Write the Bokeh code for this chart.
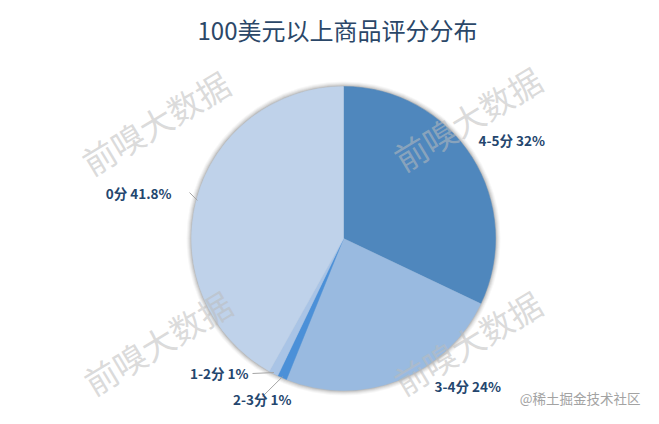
import math
from bokeh.plotting import figure
from bokeh.models import Range1d
from bokeh.core.properties import value
from bokeh.embed import file_html
from bokeh.resources import INLINE

# ---- data ----
title = "100美元以上商品评分分布"
categories = ["4-5分", "3-4分", "2-3分", "1-2分", "0分"]
percents = [32, 24, 1, 1, 41.8]
colors = ["#4f87bd", "#99bae0", "#4b90d8", "#a9c4e6", "#bfd2ea"]
watermark = "前嗅大数据"
credit = "@稀土掘金技术社区"

# ---- layout (pixels of the picture) ----
W, H = 643, 408
CJK = "Noto Sans CJK SC"


def px(X):
    return X


def py(Y):
    return H - Y


cx, cy, R = px(343), py(238), 152
# label anchor positions (picture pixels) and alignment
label_pos = [(478, 139, "left"), (434, 385, "left"), (291, 398, "right"),
             (248, 372, "right"), (171, 192, "right")]
# start point of each leader line (None = no leader)
leader_start = [None, None, (262, 396), (252, 373), (189, 192)]
wm_pos = [(155, 122), (467, 118), (157, 342), (467, 342)]

p = figure(width=W, height=H, output_backend="svg", toolbar_location=None,
           x_range=Range1d(0, W), y_range=Range1d(0, H), min_border=0)
p.axis.visible = False
p.grid.visible = False
p.outline_line_color = None
p.background_fill_color = "white"
p.border_fill_color = "white"

# soft shadow
for dr, a in [(5, 0.03), (4, 0.04), (3, 0.055), (2, 0.075), (1, 0.1)]:
    p.circle(x=[cx], y=[cy], radius=R + dr, radius_units="screen",
             fill_color="#000000", fill_alpha=a, line_color=None)

total = sum(percents)
starts, ends, mids = [], [], []
cum = 0.0
for v in percents:
    s = math.pi / 2 - 2 * math.pi * cum / total
    cum += v
    e = math.pi / 2 - 2 * math.pi * cum / total
    starts.append(s)
    ends.append(e)
    mids.append((s + e) / 2)

p.wedge(x=[cx] * len(percents), y=[cy] * len(percents), radius=R,
        radius_units="screen", start_angle=starts, end_angle=ends,
        direction="clock", fill_color=colors, line_color=colors, line_width=0.5)

# watermarks
p.text(x=[px(a) for a, b in wm_pos], y=[py(b) for a, b in wm_pos],
       text=[watermark] * len(wm_pos), angle=math.radians(31),
       text_align="center", text_baseline="middle",
       text_font=value(CJK), text_font_size=value("33px"),
       text_color="#bcbcbc", text_alpha=0.55)

# leader lines
for m, st in zip(mids, leader_start):
    if st is None:
        continue
    ex = cx + (R - 1) * math.cos(m)
    ey = cy + (R - 1) * math.sin(m)
    p.line(x=[px(st[0]), ex], y=[py(st[1]), ey], line_color="#a6a6a6",
           line_width=1)

labels = [f"{c} {v:g}%" for c, v in zip(categories, percents)]
for t, (X, Y, al) in zip(labels, label_pos):
    p.text(x=[px(X)], y=[py(Y)], text=[t], text_align=al,
           text_baseline="middle", text_font=value(CJK),
           text_font_size=value("13.5px"), text_font_style="bold",
           text_color="#24466e")

# title
p.text(x=[px(337)], y=[py(29)], text=[title], text_align="center",
       text_baseline="middle", text_font=value(CJK),
       text_font_size=value("24px"), text_color="#2b4768")

# credit
p.text(x=[px(640)], y=[py(397)], text=[credit], text_align="right",
       text_baseline="middle", text_font=value(CJK),
       text_font_size=value("13.5px"), text_color="#a3a3a3")

open("out.html", "w").write(file_html(p, INLINE))
